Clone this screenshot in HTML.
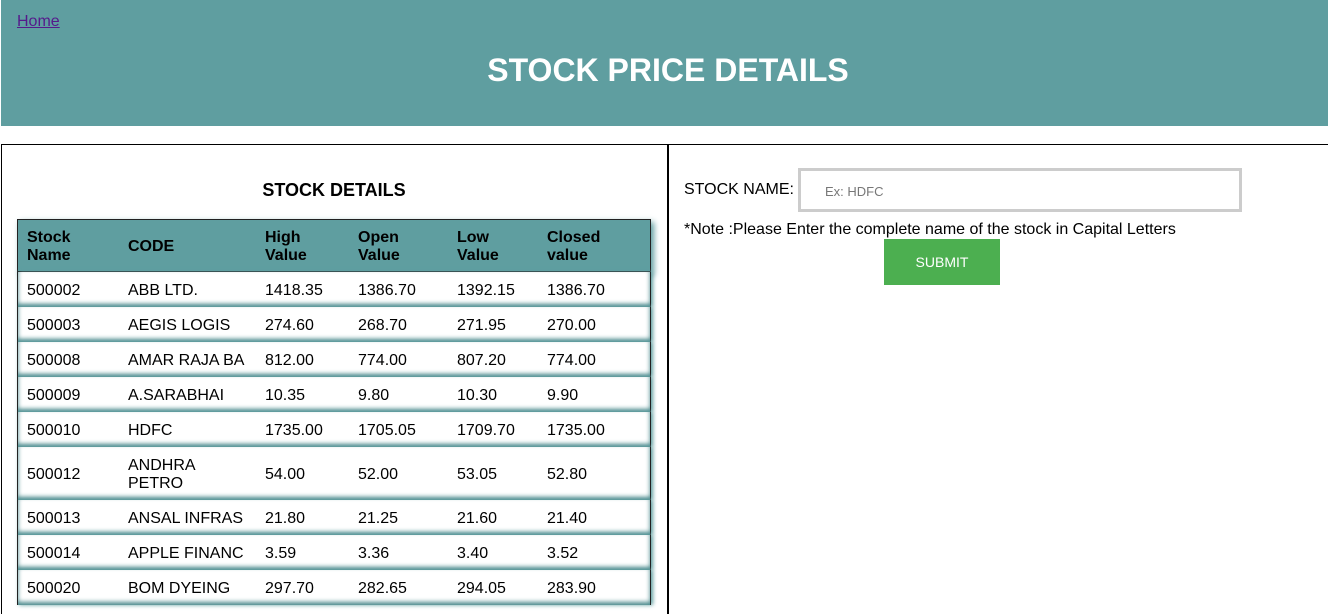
<!DOCTYPE html>
<html><head><meta charset="utf-8"><style>
body{margin:0;width:1328px;height:605px;overflow:hidden;background:#fff;font-family:"Liberation Sans",Arial,sans-serif;position:relative}
.hdr{position:absolute;left:1px;top:0;width:1327px;height:126px;background:#5f9ea0}
.home{position:absolute;left:16px;top:13px;font-size:16px;color:#551a8b;text-decoration:underline}
.title{position:absolute;left:0;width:1334px;top:52px;text-align:center;color:#fff;font-weight:bold;font-size:32px}
.lp{position:absolute;left:1px;top:144px;width:668px;height:470px;border-left:1px solid #000;border-top:1px solid #000;border-right:2px solid #000;box-sizing:border-box}
.rp{position:absolute;left:668px;top:144px;width:660px;border-top:1px solid #000}
.sd{position:absolute;left:0;width:668px;top:180px;text-align:center;font-weight:bold;font-size:18px}
.th{position:absolute;left:17px;top:219px;width:634px;height:53px;background:#5f9ea0;border:1px solid #222;box-sizing:border-box;box-shadow:3px 3px 6px #5f9ea0}
.row{position:absolute;left:17px;width:634px;background:#fff;border-left:1px solid #222;border-right:1px solid #222;box-sizing:border-box;box-shadow:0 -3px 5px #4a8a8c inset,2px 0 4px #5f9ea0}
.c{position:absolute;font-size:16px;color:#000;line-height:18px}
.h{font-weight:bold}
</style></head><body>
<div class="hdr">
<a class="home">Home</a>
<div class="title">STOCK PRICE DETAILS</div></div>
<div class="lp"></div>
<div class="rp"></div>
<div class="sd">STOCK DETAILS</div>
<div class="th"></div>
<div id="tbl"></div>
<div class="c" style="left:684px;top:181px">STOCK NAME:</div>
<div style="position:absolute;left:798px;top:168px;width:444px;height:44px;border:3px solid #ccc;box-sizing:border-box;font-size:13px;color:#777;padding:13px 0 0 24px">Ex: HDFC</div>
<div class="c" style="left:684px;top:221px">*Note :Please Enter the complete name of the stock in Capital Letters</div>
<div style="position:absolute;left:884px;top:239px;width:116px;height:46px;background:#4caf50;color:#fff;font-size:14px;text-align:center;line-height:46px">SUBMIT</div>
<script>
const colX=[27,128,265,358,457,547];
const heads=[["Stock","Name"],["CODE"],["High","Value"],["Open","Value"],["Low","Value"],["Closed","value"]];
const rows=[["500002","ABB LTD.","1418.35","1386.70","1392.15","1386.70"],["500003","AEGIS LOGIS","274.60","268.70","271.95","270.00"],["500008","AMAR RAJA BA","812.00","774.00","807.20","774.00"],["500009","A.SARABHAI","10.35","9.80","10.30","9.90"],["500010","HDFC","1735.00","1705.05","1709.70","1735.00"],["500012","ANDHRA PETRO","54.00","52.00","53.05","52.80"],["500013","ANSAL INFRAS","21.80","21.25","21.60","21.40"],["500014","APPLE FINANC","3.59","3.36","3.40","3.52"],["500020","BOM DYEING","297.70","282.65","294.05","283.90"]];
const t=document.getElementById('tbl');
heads.forEach((h,i)=>{const d=document.createElement('div');d.className='c h';d.style.left=colX[i]+'px';d.style.top=(h.length>1?229:238)+'px';d.innerHTML=h.join('<br>');


t.appendChild(d);});
let y=272;
rows.forEach(r=>{const tall=r[1]==='ANDHRA PETRO';const hgt=tall?53:35;const rw=document.createElement('div');rw.className='row';rw.style.top=y+'px';rw.style.height=hgt+'px';


t.appendChild(rw);
r.forEach((v,i)=>{const d=document.createElement('div');d.className='c';d.style.left=colX[i]+'px';
if(tall&&i===1){d.innerHTML='ANDHRA<br>PETRO';d.style.top=(y+10)+'px';}else{d.textContent=v;d.style.top=(y+hgt/2-8)+'px';}


t.appendChild(d);});
y+=hgt;});
</script>
</body></html>
